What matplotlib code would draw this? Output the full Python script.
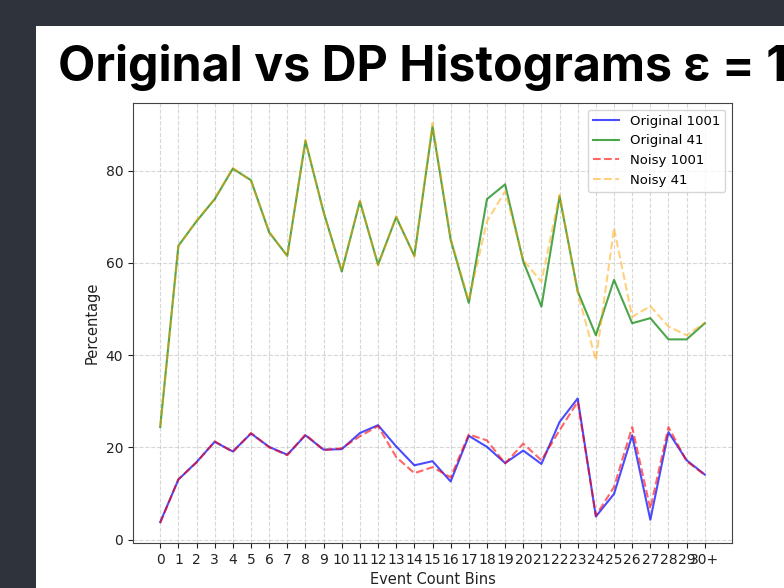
import matplotlib
matplotlib.use("Agg")
import matplotlib.pyplot as plt
from matplotlib.patches import Rectangle

bins = [str(i) for i in range(30)] + ["30+"]

original_1001 = [3.8, 13.0, 16.8, 21.2, 19.1, 23.0, 20.1, 18.4, 22.6, 19.5,
                 19.6, 23.1, 24.8, 20.2, 16.1, 17.0, 12.6, 22.5, 20.1, 16.6,
                 19.3, 16.4, 25.5, 30.6, 5.0, 9.9, 22.6, 4.3, 23.3, 17.2, 14.1]
original_41 = [24.4, 63.7, 69.0, 73.8, 80.4, 77.9, 66.6, 61.5, 86.4, 71.0,
               58.1, 73.3, 59.6, 69.9, 61.5, 89.5, 65.0, 51.3, 73.8, 77.0,
               60.3, 50.5, 74.4, 53.8, 44.3, 56.3, 46.9, 48.0, 43.4, 43.4, 46.9]
noisy_1001 = [3.6, 13.1, 16.7, 21.3, 19.0, 23.1, 20.0, 18.3, 22.8, 19.4,
              19.8, 22.4, 24.6, 17.9, 14.4, 15.7, 13.5, 22.8, 21.5, 16.5,
              20.8, 17.2, 23.7, 29.9, 5.2, 11.4, 24.4, 6.7, 24.4, 17.0, 14.0]
noisy_41 = [24.6, 63.5, 69.2, 73.9, 80.6, 77.7, 66.8, 61.4, 86.7, 70.8,
            58.3, 73.5, 59.4, 70.1, 61.3, 90.3, 65.3, 51.8, 69.0, 75.5,
            60.6, 55.9, 74.8, 53.5, 38.9, 67.5, 48.3, 50.6, 46.2, 44.3, 47.0]

W, H = 784, 588
fig = plt.figure(figsize=(W / 100, H / 100), dpi=100)
fig.patch.set_facecolor("#2f333b")
fig.patches.append(Rectangle((36 / W, 0), 1 - 36 / W, 1 - 26 / H,
                             transform=fig.transFigure, facecolor="white",
                             edgecolor="none", zorder=-10))

fig.text(58 / W, 1 - 81 / H, "Original vs DP Histograms ε = 1",
         fontsize=34.8, fontweight="bold", family=["Inter", "DejaVu Sans"],
         color="black", ha="left", va="baseline")

ax = fig.add_axes([133 / W, 1 - 543 / H, (732 - 133) / W, (543 - 103) / H])
ax.set_zorder(5)
x = list(range(len(bins)))
ax.plot(x, original_1001, color="blue", alpha=0.7, lw=1.5, label="Original 1001")
ax.plot(x, original_41, color="green", alpha=0.7, lw=1.5, label="Original 41")
ax.plot(x, noisy_1001, color="red", alpha=0.6, lw=1.5, ls="--", label="Noisy 1001")
ax.plot(x, noisy_41, color="orange", alpha=0.5, lw=1.5, ls="--", label="Noisy 41")

ax.set_xticks(x)
ax.set_xticklabels(bins)
ax.tick_params(labelsize=10, colors="#222222")
for s in ax.spines.values():
    s.set_color("#444444")
ax.grid(True, linestyle="--", alpha=0.5)
ax.set_xlabel("Event Count Bins", fontsize=10.5, color="#222222")
ax.set_ylabel("Percentage", fontsize=10.5, color="#222222")
ax.legend(loc="upper right", fontsize=9.5)

fig.savefig("out.png", dpi=100, facecolor=fig.get_facecolor())
